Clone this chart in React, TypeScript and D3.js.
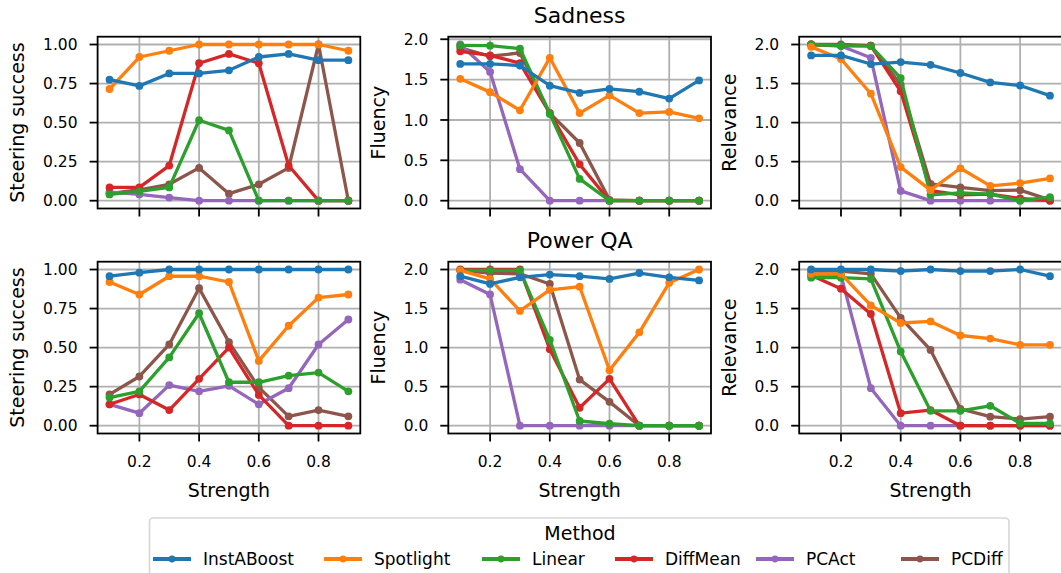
import * as d3 from 'd3';

// strength values on the x axis
const strengths = [0.1, 0.2, 0.3, 0.4, 0.5, 0.6, 0.7, 0.8, 0.9];
const methods = ['InstABoost', 'Spotlight', 'Linear', 'DiffMean', 'PCAct', 'PCDiff'];
const colors = ['#1f77b4', '#ff7f0e', '#2ca02c', '#d62728', '#9467bd', '#8c564b'];
const rowTitles = ['Sadness', 'Power QA'];
const yLabels = ['Steering success', 'Fluency', 'Relevance'];
const xTicks = [0.2, 0.4, 0.6, 0.8];
const successTicks = [0, 0.25, 0.5, 0.75, 1.0];
const scoreTicks = [0, 0.5, 1.0, 1.5, 2.0];

// rows follow the order of `methods`
const sadnessSteering = [
  [0.775, 0.735, 0.815, 0.815, 0.835, 0.92, 0.94, 0.9, 0.9],
  [0.715, 0.92, 0.96, 1.0, 1.0, 1.0, 1.0, 1.0, 0.96],
  [0.04, 0.06, 0.085, 0.515, 0.45, 0, 0, 0, 0],
  [0.085, 0.085, 0.225, 0.88, 0.94, 0.88, 0.225, 0, 0],
  [0.055, 0.04, 0.02, 0, 0, 0, 0, 0, 0],
  [0.045, 0.07, 0.105, 0.21, 0.045, 0.105, 0.21, 1.0, 0],
];
const sadnessFluency = [
  [1.695, 1.695, 1.675, 1.425, 1.335, 1.385, 1.35, 1.265, 1.49],
  [1.51, 1.345, 1.12, 1.77, 1.085, 1.305, 1.085, 1.1, 1.02],
  [1.925, 1.92, 1.885, 1.075, 0.27, 0, 0, 0, 0],
  [1.85, 1.8, 1.705, 1.085, 0.45, 0, 0, 0, 0],
  [1.935, 1.595, 0.39, 0, 0, 0, 0, 0, 0],
  [1.895, 1.79, 1.83, 1.085, 0.715, 0.01, 0, 0, 0],
];
const sadnessRelevance = [
  [1.86, 1.86, 1.75, 1.775, 1.74, 1.635, 1.515, 1.475, 1.345],
  [1.97, 1.815, 1.37, 0.43, 0.135, 0.415, 0.19, 0.225, 0.285],
  [2.0, 1.985, 1.98, 1.57, 0.075, 0.1, 0.085, 0, 0.045],
  [2.0, 1.985, 1.985, 1.4, 0.13, 0.075, 0.085, 0.03, 0],
  [2.0, 1.98, 1.83, 0.125, 0, 0, 0, 0, 0],
  [2.0, 2.0, 1.985, 1.485, 0.215, 0.17, 0.13, 0.135, 0.01],
];
const powerSteering = [
  [0.957, 0.98, 1.0, 1.0, 1.0, 1.0, 1.0, 1.0, 1.0],
  [0.92, 0.84, 0.957, 0.957, 0.92, 0.415, 0.64, 0.82, 0.84],
  [0.18, 0.22, 0.437, 0.72, 0.278, 0.278, 0.32, 0.34, 0.22],
  [0.137, 0.2, 0.1, 0.3, 0.5, 0.197, 0, 0, 0],
  [0.137, 0.08, 0.26, 0.22, 0.255, 0.137, 0.24, 0.52, 0.68],
  [0.2, 0.315, 0.52, 0.88, 0.535, 0.245, 0.06, 0.1, 0.06],
];
const powerFluency = [
  [1.915, 1.815, 1.9, 1.935, 1.915, 1.88, 1.955, 1.9, 1.86],
  [1.99, 1.88, 1.47, 1.74, 1.78, 0.71, 1.195, 1.83, 2.0],
  [1.99, 1.99, 1.99, 1.1, 0.06, 0.025, 0, 0, 0],
  [2.0, 2.0, 2.0, 0.98, 0.23, 0.6, 0, 0, 0],
  [1.87, 1.68, 0, 0, 0, 0, 0, 0, 0],
  [1.99, 1.955, 1.945, 1.815, 0.59, 0.305, 0, 0, 0],
];
const powerRelevance = [
  [2.0, 2.0, 2.0, 1.98, 2.0, 1.98, 1.98, 2.0, 1.915],
  [1.945, 1.945, 1.54, 1.315, 1.335, 1.155, 1.115, 1.035, 1.035],
  [1.895, 1.895, 1.88, 0.95, 0.19, 0.19, 0.255, 0.03, 0.03],
  [1.925, 1.755, 1.43, 0.16, 0.2, 0, 0, 0, 0],
  [1.945, 1.925, 0.48, 0, 0, 0, 0, 0, 0],
  [1.98, 1.98, 1.945, 1.38, 0.97, 0.215, 0.115, 0.085, 0.115],
];

const panelData = [
  [sadnessSteering, sadnessFluency, sadnessRelevance],
  [powerSteering, powerFluency, powerRelevance],
];

// legend entry start positions (px)
const legendX = [153, 324, 482, 615, 756, 901];

const W = 1061;
const H = 573;
const colLeft = [97.6, 448.3, 799.2];
const rowTop = [36.7, 261.7];
const PW = 262.7;
const PH = 171.8;
const FONT = 'DejaVu Sans, sans-serif';

function Panel({ row, col }: { row: number; col: number }) {
  const values = panelData[row][col];
  const left = colLeft[col];
  const top = rowTop[row];
  const x = d3.scaleLinear().domain([0.06, 0.94]).range([left, left + PW]);
  const all = values.flat();
  const lo = d3.min(all) ?? 0;
  const hi = d3.max(all) ?? 1;
  const pad = (hi - lo) * 0.05;
  const y = d3.scaleLinear().domain([lo - pad, hi + pad]).range([top + PH, top]);
  const yTicks = col === 0 ? successTicks : scoreTicks;
  const yFmt = col === 0 ? d3.format('.2f') : d3.format('.1f');
  const line = d3
    .line<number>()
    .x((_, i) => x(strengths[i]))
    .y((v) => y(v));
  const clipId = `clip-${row}-${col}`;
  // later methods are drawn first
  const order = [5, 4, 3, 2, 1, 0];

  return (
    <g>
      <defs>
        <clipPath id={clipId}>
          <rect x={left} y={top} width={PW} height={PH} />
        </clipPath>
      </defs>
      {/* grid */}
      {xTicks.map((t) => (
        <line key={'gx' + t} x1={x(t)} x2={x(t)} y1={top} y2={top + PH} stroke="#b0b0b0" strokeWidth={1.8} />
      ))}
      {yTicks.map((t) => (
        <line key={'gy' + t} x1={left} x2={left + PW} y1={y(t)} y2={y(t)} stroke="#b0b0b0" strokeWidth={1.8} />
      ))}
      {/* series */}
      <g clipPath={`url(#${clipId})`}>
        {order.map((m) => (
          <g key={methods[m]}>
            <path d={line(values[m]) ?? ''} fill="none" stroke={colors[m]} strokeWidth={3.3} strokeLinejoin="round" strokeLinecap="round" />
            {values[m].map((v, i) => (
              <circle key={i} cx={x(strengths[i])} cy={y(v)} r={3.9} fill={colors[m]} />
            ))}
          </g>
        ))}
      </g>
      {/* spines */}
      <rect x={left} y={top} width={PW} height={PH} fill="none" stroke="#000" strokeWidth={1.8} />
      {/* ticks */}
      {xTicks.map((t) => (
        <g key={'tx' + t}>
          <line x1={x(t)} x2={x(t)} y1={top + PH} y2={top + PH + 8} stroke="#000" strokeWidth={1.8} />
          {row === 1 && (
            <text x={x(t)} y={top + PH + 33} textAnchor="middle" fontSize={15.5} fontFamily={FONT} fill="#000">
              {d3.format('.1f')(t)}
            </text>
          )}
        </g>
      ))}
      {yTicks.map((t) => (
        <g key={'ty' + t}>
          <line x1={left - 8} x2={left} y1={y(t)} y2={y(t)} stroke="#000" strokeWidth={1.8} />
          <text x={left - 20} y={y(t)} dy="0.36em" textAnchor="end" fontSize={15.5} fontFamily={FONT} fill="#000">
            {yFmt(t)}
          </text>
        </g>
      ))}
      {/* axis labels */}
      <text
        transform={`translate(${left - (col === 0 ? 73.6 : 63.3)}, ${top + PH / 2}) rotate(-90)`}
        textAnchor="middle"
        fontSize={19}
        fontFamily={FONT}
        fill="#000"
      >
        {yLabels[col]}
      </text>
      {row === 1 && (
        <text x={left + PW / 2} y={top + PH + 63} textAnchor="middle" fontSize={19} fontFamily={FONT} fill="#000">
          Strength
        </text>
      )}
      {col === 1 && (
        <text x={left + PW / 2} y={top - 13.5} textAnchor="middle" fontSize={22} fontFamily={FONT} fill="#000">
          {rowTitles[row]}
        </text>
      )}
    </g>
  );
}

function Legend() {
  const top = 518;
  return (
    <g>
      <rect x={149.5} y={top} width={859.5} height={80} rx={4} fill="#fff" stroke="#d6d6d6" strokeWidth={1.6} />
      <text x={580} y={540} textAnchor="middle" fontSize={19} fontFamily={FONT} fill="#000">
        Method
      </text>
      {methods.map((m, i) => (
        <g key={m}>
          <line x1={legendX[i]} x2={legendX[i] + 38} y1={559} y2={559} stroke={colors[i]} strokeWidth={3.8} />
          <circle cx={legendX[i] + 19} cy={559} r={3.4} fill={colors[i]} />
          <text x={legendX[i] + 50} y={565} fontSize={17} fontFamily={FONT} fill="#000">
            {m}
          </text>
        </g>
      ))}
    </g>
  );
}

export default function App() {
  return (
    <svg
      width={W}
      height={H}
      viewBox={`0 0 ${W} ${H}`}
      style={{ position: 'absolute', left: 0, top: 0, background: '#fff' }}
    >
      <rect width={W} height={H} fill="#fff" />
      {[0, 1].map((r) => [0, 1, 2].map((c) => <Panel key={`${r}-${c}`} row={r} col={c} />))}
      <Legend />
    </svg>
  );
}
